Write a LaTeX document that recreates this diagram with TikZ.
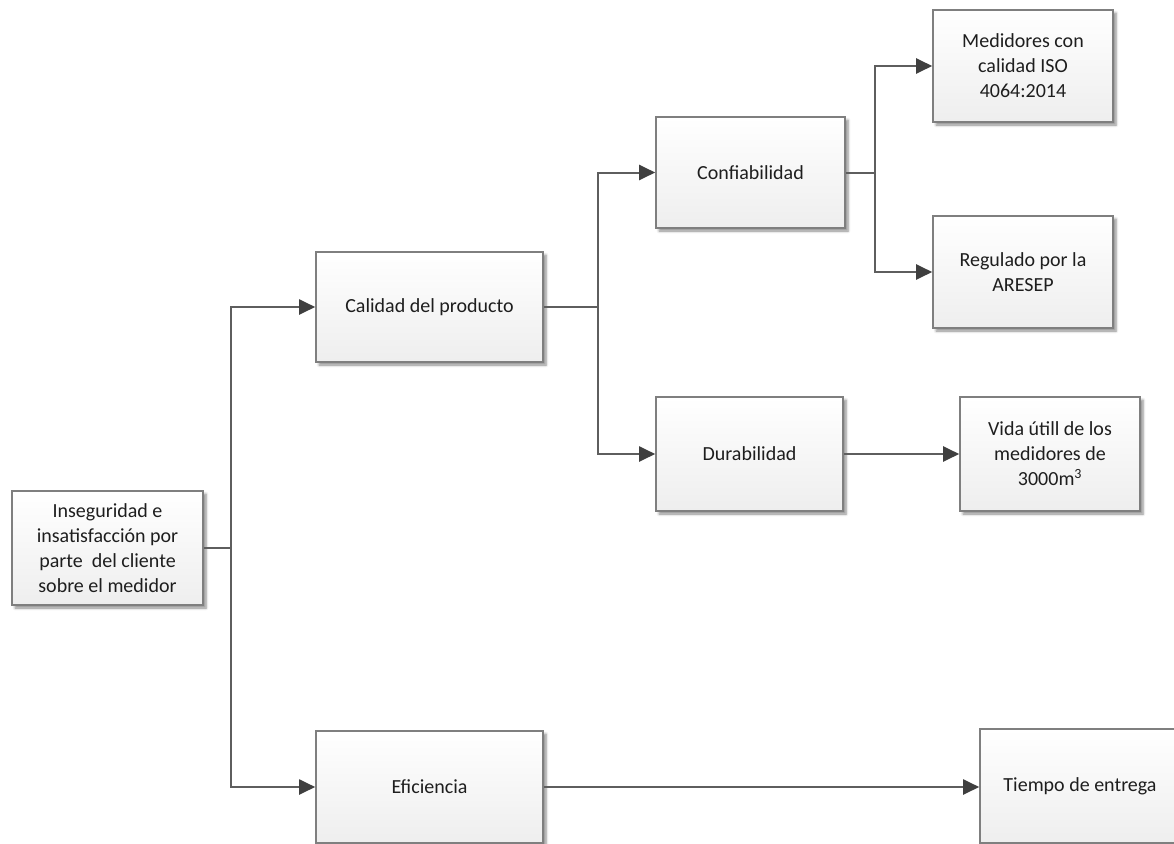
\documentclass[tikz,border=0pt]{standalone}
\usepackage{fontspec}
\setmainfont{Carlito}
\usetikzlibrary{arrows.meta,shadows.blur}
\definecolor{boxline}{HTML}{7F7F7F}
\definecolor{boxbottom}{HTML}{EEEEEE}
\definecolor{wire}{HTML}{5E5E5E}
\definecolor{tipfill}{HTML}{3F3F3F}
\definecolor{ink}{HTML}{1E1E1E}
\tikzset{
  box/.style={draw=boxline, line width=1.6pt, rectangle, align=center,
    top color=white, bottom color=boxbottom, text=ink,
    font=\fontsize{20}{25}\selectfont, inner sep=4pt,
    blur shadow={shadow xshift=3pt, shadow yshift=-3pt, shadow blur radius=2.5pt,
      shadow blur steps=6, shadow opacity=45}},
  wireline/.style={draw=wire, line width=2pt},
  arr/.style={wireline, -{Triangle[length=16pt,width=15pt,fill=tipfill,color=tipfill]}}
}
\begin{document}
\begin{tikzpicture}[x=1pt,y=-1pt]
\useasboundingbox (0,0) rectangle (1174,843);
\clip (0,0) rectangle (1174,843);

% root cause
\node[box, minimum width=191pt, minimum height=114pt] (root) at (107.5,548)
  {Inseguridad e\\insatisfacción por\\parte\ \ del cliente\\sobre el medidor};

% first level
\node[box, minimum width=227pt, minimum height=110pt] (cal) at (429.5,307) {Calidad del producto};
\node[box, minimum width=227pt, minimum height=112pt] (efi) at (429.5,787) {Eficiencia};

% second level
\node[box, minimum width=189pt, minimum height=111pt] (conf) at (750.5,172.5) {Confiabilidad};
\node[box, minimum width=187pt, minimum height=114pt] (dur) at (749.5,454) {Durabilidad};

% leaves
\node[box, minimum width=180pt, minimum height=112pt] (med) at (1023,66)
  {Medidores con\\calidad ISO\\4064:2014};
\node[box, minimum width=180pt, minimum height=112pt] (reg) at (1023,272)
  {Regulado por la\\ARESEP};
\node[box, minimum width=180pt, minimum height=114pt] (vida) at (1050,454)
  {Vida útill de los\\medidores de\\3000m\textsuperscript{3}};
\node[box, minimum width=200pt, minimum height=114pt] (tiem) at (1080,786)
  {Tiempo de entrega};

% junction points of the branching connectors
\coordinate (j1) at (231,548);
\coordinate (j2) at (598,307);
\coordinate (j3) at (875,172.5);

\draw[wireline] (root.east) -- (j1);
\draw[arr] (j1) |- (cal.west);
\draw[arr] (j1) |- (efi.west);

\draw[wireline] (cal.east) -- (j2);
\draw[arr] (j2) |- (conf.west);
\draw[arr] (j2) |- (dur.west);

\draw[wireline] (conf.east) -- (j3);
\draw[arr] (j3) |- (med.west);
\draw[arr] (j3) |- (reg.west);

\draw[arr] (dur.east) -- (vida.west);
\draw[arr] (efi.east) -- (tiem.west |- efi.east);
\end{tikzpicture}
\end{document}
